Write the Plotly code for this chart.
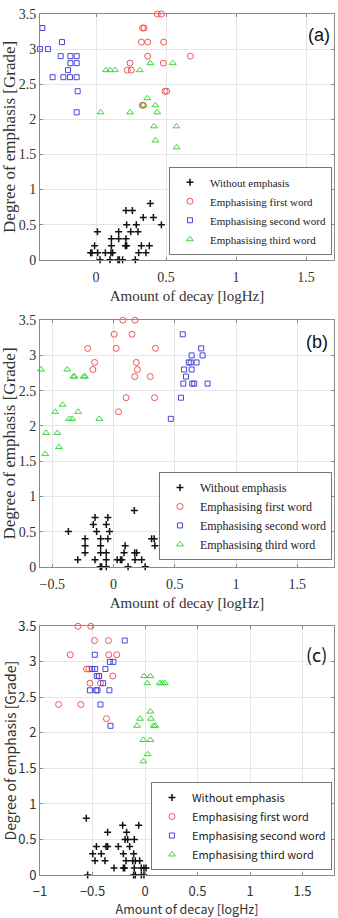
import plotly.graph_objects as go

# ---------------- data ----------------
names = ["Without emphasis", "Emphasising first word", "Emphasising second word", "Emphasising third word"]

# panel (a)
a_none_x = [0.388, 0.214, 0.26, 0.338, 0.41, 0.219, 0.288, 0.467, 0.01, 0.162, 0.248, 0.3, 0.6,
            0.11, 0.162, 0.214, 0.66, -0.01, 0.11, 0.21, 0.219, 0.324, 0.381,
            -0.038, -0.029, 0.012, 0.067, 0.107, 0.119, 0.305, 0.357,
            0.029, 0.1, 0.157, 0.167, 0.19, 0.281]
a_none_y = [0.8, 0.7, 0.7, 0.6, 0.6, 0.5, 0.5, 0.5, 0.4, 0.4, 0.4, 0.4, 0.4,
            0.3, 0.3, 0.3, 0.3, 0.2, 0.2, 0.2, 0.2, 0.2, 0.2,
            0.1, 0.1, 0.1, 0.1, 0.1, 0.1, 0.1, 0.1,
            0, 0, 0, 0, 0, 0]
a_first_x = [0.438, 0.467, 0.333, 0.343, 0.324, 0.369, 0.483, 0.369, 0.674, 0.243, 0.481,
             0.224, 0.252, 0.493, 0.505, 0.331, 0.338]
a_first_y = [3.5, 3.5, 3.3, 3.3, 3.1, 3.1, 3.1, 2.9, 2.9, 2.8, 2.8, 2.7, 2.7, 2.4, 2.4, 2.2, 2.2]
a_second_x = [-0.383, -0.4, -0.343, -0.243, -0.252, -0.183, -0.138, -0.183, -0.138, -0.2,
              -0.31, -0.233, -0.186, -0.138, -0.131, -0.138]
a_second_y = [3.3, 3.0, 3.0, 3.1, 2.9, 2.9, 2.9, 2.8, 2.8, 2.7, 2.6, 2.6, 2.6, 2.6, 2.4, 2.1]
a_third_x = [0.071, 0.1, 0.136, 0.312, 0.388, 0.548, 0.367, 0.34, 0.424, 0.033, 0.243, 0.438,
             0.414, 0.574, 0.424, 0.576]
a_third_y = [2.7, 2.7, 2.7, 2.7, 2.8, 2.8, 2.3, 2.2, 2.2, 2.1, 2.1, 2.1, 1.9, 1.9, 1.7, 1.6]

# panel (b)
b_none_x = [0.17, -0.151, -0.046, -0.165, -0.059, -0.368, -0.138, -0.032,
            -0.232, -0.105, -0.046, 0.311, 0.332,
            -0.232, -0.105, 0.095, 0.338,
            -0.232, -0.105, -0.059, 0.086, 0.173, 0.189,
            -0.292, -0.151, -0.059, 0.03, 0.057, 0.068, 0.176, 0.23,
            -0.108, -0.097, -0.059, 0.119, 0.259]
b_none_y = [0.8, 0.7, 0.7, 0.6, 0.6, 0.5, 0.5, 0.5,
            0.4, 0.4, 0.4, 0.4, 0.4,
            0.3, 0.3, 0.3, 0.3,
            0.2, 0.2, 0.2, 0.2, 0.2, 0.2,
            0.1, 0.1, 0.1, 0.1, 0.1, 0.1, 0.1, 0.1,
            0, 0, 0, 0, 0]
b_first_x = [0.076, 0.176, 0.005, 0.151, -0.211, 0.022, 0.343, -0.154, 0.186, -0.168, 0.195,
             0.173, 0.3, 0.103, 0.335, 0.041]
b_first_y = [3.5, 3.5, 3.3, 3.3, 3.1, 3.1, 3.1, 2.9, 2.9, 2.8, 2.8, 2.7, 2.7, 2.4, 2.4, 2.2]
b_second_x = [0.565, 0.638, 0.727, 0.716, 0.614, 0.63, 0.678, 0.576, 0.638, 0.592,
              0.57, 0.643, 0.659, 0.768, 0.551, 0.468]
b_second_y = [3.3, 3.0, 3.0, 3.1, 2.9, 2.9, 2.9, 2.8, 2.8, 2.7, 2.6, 2.6, 2.6, 2.6, 2.4, 2.1]
b_third_x = [-0.592, -0.378, -0.327, -0.319, -0.243, -0.232, -0.416, -0.476, -0.289,
             -0.362, -0.338, -0.116, -0.551, -0.459, -0.446, -0.557]
b_third_y = [2.8, 2.8, 2.7, 2.7, 2.7, 2.7, 2.3, 2.2, 2.2, 2.1, 2.1, 2.1, 1.9, 1.9, 1.7, 1.6]

# panel (c)
c_none_x = [-0.559, -0.213, -0.06, -0.356, -0.175, -0.19, -0.165, -0.102,
            -0.463, -0.371, -0.356, -0.254, -0.146,
            -0.498, -0.416, -0.206, -0.108,
            -0.476, -0.381, -0.181, -0.117, -0.092, -0.051,
            -0.295, -0.206, -0.194, -0.102, -0.035, -0.01, 0.01,
            -0.546, -0.108, -0.092, -0.035, -0.01]
c_none_y = [0.8, 0.7, 0.7, 0.6, 0.6, 0.5, 0.5, 0.5,
            0.4, 0.4, 0.4, 0.4, 0.4,
            0.3, 0.3, 0.3, 0.3,
            0.2, 0.2, 0.2, 0.2, 0.2, 0.2,
            0.1, 0.1, 0.1, 0.1, 0.1, 0.1, 0.1,
            0, 0, 0, 0, 0]
c_first_x = [-0.639, -0.516, -0.481, -0.348, -0.712, -0.345, -0.269, -0.557, -0.535,
             -0.307, -0.44, -0.525, -0.424, -0.823, -0.611, -0.367]
c_first_y = [3.5, 3.5, 3.3, 3.3, 3.1, 3.1, 3.1, 2.9, 2.9, 2.8, 2.8, 2.7, 2.7, 2.4, 2.4, 2.2]
c_second_x = [-0.193, -0.478, -0.335, -0.301, -0.503, -0.475, -0.377, -0.459, -0.437,
              -0.399, -0.525, -0.465, -0.453, -0.339, -0.424, -0.329]
c_second_y = [3.3, 3.1, 3.0, 3.0, 2.9, 2.9, 2.9, 2.8, 2.8, 2.7, 2.6, 2.6, 2.6, 2.6, 2.4, 2.1]
c_third_x = [-0.009, 0.051, 0.022, 0.142, 0.165, 0.19, 0.051, -0.047, 0.057, -0.076,
             0.082, 0.098, -0.016, 0.051, 0.025, -0.016]
c_third_y = [2.8, 2.8, 2.7, 2.7, 2.7, 2.7, 2.3, 2.2, 2.2, 2.1, 2.1, 2.1, 1.9, 1.9, 1.7, 1.6]

SERIF = "Liberation Serif, Times New Roman, DejaVu Serif, serif"
SANS = "Liberation Sans, Arial, sans-serif"
CJK = "Noto Sans CJK JP, sans-serif"

panels = [
    dict(tag="(a)", xr=[-0.4, 1.7], dom=[0.7146, 1.0],
         data=[(a_none_x, a_none_y), (a_first_x, a_first_y), (a_second_x, a_second_y), (a_third_x, a_third_y)],
         font=SERIF, tagfont=SANS, tick=14, xtitle=15, ytitle=17, leg=11, xstand=6,
         tagpos=(0.993, 0.915), legpos=(0.993, 0.7204)),
    dict(tag="(b)", xr=[-0.6, 1.8], dom=[0.3579, 0.6444],
         data=[(b_none_x, b_none_y), (b_first_x, b_first_y), (b_second_x, b_second_y), (b_third_x, b_third_y)],
         font=SERIF, tagfont=SANS, tick=14, xtitle=15, ytitle=17, leg=12, xstand=6,
         tagpos=(0.986, 0.912), legpos=(0.993, 0.3659)),
    dict(tag="(c)", xr=[-1.0, 1.8], dom=[0.0, 0.2888],
         data=[(c_none_x, c_none_y), (c_first_x, c_first_y), (c_second_x, c_second_y), (c_third_x, c_third_y)],
         font=CJK, tagfont=CJK, tick=13, xtitle=12.5, ytitle=14, leg=11, xstand=7,
         tagpos=(0.983, 0.888), legpos=(0.993, 0.0058)),
]

styles = [
    dict(symbol="cross-thin-open", color="#111111", size=5, lw=1.5),
    dict(symbol="circle-open", color="#f25555", size=6, lw=1),
    dict(symbol="square-open", color="#4646dc", size=5, lw=1),
    dict(symbol="triangle-up-open", color="#3ad83a", size=6, lw=1),
]

fig = go.Figure()
layout = dict(
    width=338, height=918,
    margin=dict(l=40, r=3, t=14, b=35),
    paper_bgcolor="white", plot_bgcolor="white",
    annotations=[],
)

for i, p in enumerate(panels):
    n = "" if i == 0 else str(i + 1)
    legname = "legend" if i == 0 else "legend" + str(i + 1)
    for k, (xs, ys) in enumerate(p["data"]):
        s = styles[k]
        fig.add_trace(go.Scatter(
            x=xs, y=ys, mode="markers", name=names[k],
            xaxis="x" + n, yaxis="y" + n, legend=legname,
            cliponaxis=False,
            marker=dict(symbol=s["symbol"], size=s["size"], color=s["color"],
                        line=dict(width=s["lw"], color=s["color"])),
        ))
    common = dict(
        showgrid=True, gridcolor="#e6e6e6", gridwidth=1,
        showline=True, linecolor="#8a8a8a", linewidth=1, mirror="ticks",
        ticks="inside", ticklen=3, tickcolor="#8a8a8a",
        zeroline=False, tickfont=dict(family=p["font"], size=p["tick"], color="#333333"),
    )
    layout["xaxis" + n] = dict(
        common, domain=[0, 1], anchor="y" + n, range=p["xr"], dtick=0.5, tick0=0,
        ticklabelstandoff=4,
        title=dict(text="Amount of decay [logHz]", font=dict(family=p["font"], size=p["xtitle"], color="#333333"),
                   standoff=p["xstand"]),
    )
    layout["yaxis" + n] = dict(
        common, domain=p["dom"], anchor="x" + n, range=[0, 3.5], dtick=0.5, tick0=0,
        title=dict(text="Degree of emphasis [Grade]", font=dict(family=p["font"], size=p["ytitle"], color="#333333"),
                   standoff=2),
    )
    layout[legname] = dict(
        x=p["legpos"][0], y=p["legpos"][1], xanchor="right", yanchor="bottom",
        bgcolor="white", bordercolor="#777777", borderwidth=1,
        font=dict(family=p["font"], size=p["leg"], color="#222222"),
        itemwidth=30, tracegroupgap=0,
    )
    layout["annotations"].append(dict(
        text=p["tag"], xref=("x" + n + " domain"), yref=("y" + n + " domain"),
        x=p["tagpos"][0], y=p["tagpos"][1], xanchor="right", yanchor="middle",
        showarrow=False, font=dict(family=p["tagfont"], size=18, color="#111111"),
    ))

fig.update_layout(**layout)
fig.write_html("out.html")
